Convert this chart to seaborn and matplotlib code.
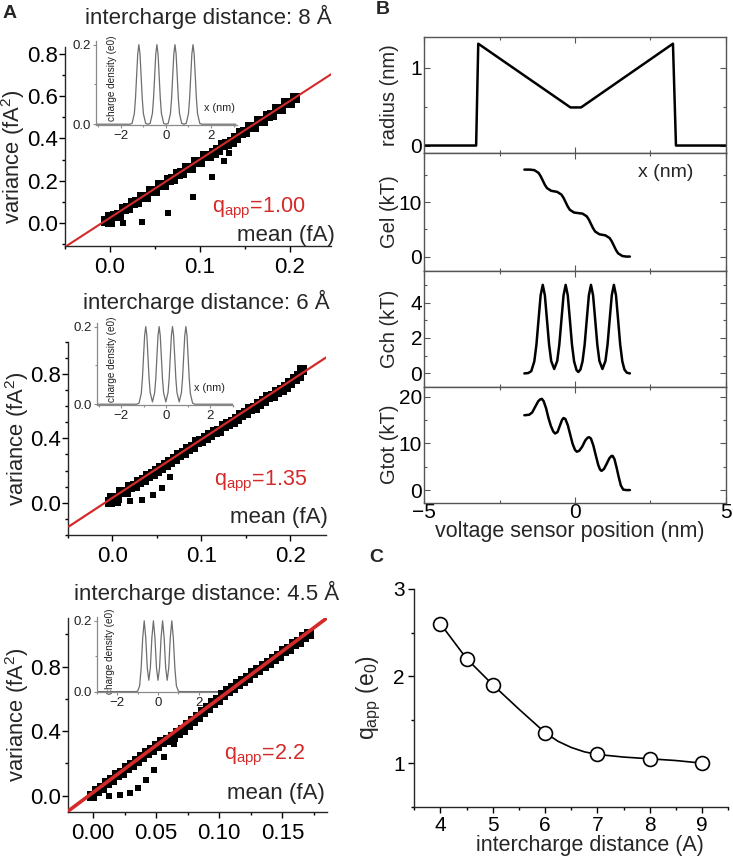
import matplotlib
matplotlib.use('Agg')
import matplotlib.pyplot as plt
from matplotlib.ticker import MultipleLocator, FormatStrFormatter
import seaborn as sns

# ---------------- data ----------------
# Panel A, 8 A spacing: noise analysis (mean, variance); dense band + stray points
mean_8 = [-0.005, 0.000, 0.000, 0.005, 0.010, 0.015, 0.020, 0.025, 0.030, 0.035, 0.040, 0.045, 0.050,
          0.055, 0.060, 0.065, 0.070, 0.075, 0.080, 0.085, 0.090, 0.095, 0.100, 0.105, 0.110, 0.115,
          0.120, 0.125, 0.130, 0.135, 0.140, 0.145, 0.150, 0.155, 0.160, 0.165, 0.170, 0.175, 0.180,
          0.185, 0.190, 0.195, 0.200, 0.205]
var_8 = [0.010, 0.005, 0.030, 0.035, 0.040, 0.066, 0.070, 0.095, 0.098, 0.122, 0.125, 0.150, 0.152,
         0.178, 0.180, 0.205, 0.208, 0.232, 0.236, 0.262, 0.262, 0.288, 0.290, 0.316, 0.318, 0.330,
         0.345, 0.370, 0.372, 0.385, 0.400, 0.425, 0.428, 0.455, 0.456, 0.482, 0.484, 0.508, 0.512,
         0.538, 0.540, 0.565, 0.566, 0.592]
mean_8_out = [0.001, 0.014, 0.035, 0.064, 0.092, 0.113, 0.127, 0.132]
var_8_out = [0.006, 0.000, 0.006, 0.049, 0.121, 0.219, 0.292, 0.330]
fit_8_x = [-0.05, 0.246]
fit_8_y = [-0.113, 0.704]

# Panel A, 6 A spacing
mean_6 = [-0.003, 0.000, 0.005, 0.010, 0.015, 0.020, 0.025, 0.030, 0.035, 0.040, 0.045, 0.050, 0.055,
          0.060, 0.065, 0.070, 0.075, 0.080, 0.085, 0.090, 0.095, 0.100, 0.105, 0.110, 0.115, 0.120,
          0.125, 0.130, 0.135, 0.140, 0.145, 0.150, 0.155, 0.160, 0.165, 0.170, 0.175, 0.180, 0.185,
          0.190, 0.195, 0.200, 0.205, 0.210, 0.213]
var_6 = [0.005, 0.030, 0.030, 0.068, 0.070, 0.100, 0.104, 0.130, 0.140, 0.165, 0.180, 0.200, 0.218,
         0.236, 0.254, 0.270, 0.298, 0.310, 0.335, 0.345, 0.375, 0.384, 0.405, 0.418, 0.440, 0.448,
         0.475, 0.488, 0.500, 0.520, 0.548, 0.560, 0.585, 0.588, 0.612, 0.630, 0.656, 0.662, 0.690,
         0.700, 0.720, 0.742, 0.770, 0.790, 0.825]
mean_6_out = [0.006, 0.020, 0.033, 0.046, 0.056, 0.065]
var_6_out = [0.000, 0.010, 0.020, 0.049, 0.090, 0.160]
fit_6_x = [-0.049, 0.24]
fit_6_y = [-0.147, 0.902]

# Panel A, 4.5 A spacing
mean_45 = [-0.001, 0.003, 0.007, 0.011, 0.015, 0.019, 0.023, 0.027, 0.031, 0.035, 0.039, 0.043, 0.047,
           0.051, 0.055, 0.059, 0.063, 0.067, 0.071, 0.075, 0.079, 0.083, 0.087, 0.091, 0.095, 0.099,
           0.103, 0.107, 0.111, 0.115, 0.119, 0.123, 0.127, 0.131, 0.135, 0.139, 0.143, 0.147, 0.151,
           0.155, 0.159, 0.163, 0.167, 0.171]
var_45 = [0.000, 0.030, 0.045, 0.080, 0.095, 0.125, 0.140, 0.170, 0.190, 0.215, 0.238, 0.262, 0.285,
          0.305, 0.330, 0.345, 0.365, 0.390, 0.410, 0.440, 0.465, 0.490, 0.520, 0.545, 0.575, 0.590,
          0.625, 0.648, 0.665, 0.690, 0.712, 0.730, 0.760, 0.782, 0.805, 0.822, 0.850, 0.868, 0.895,
          0.912, 0.940, 0.955, 0.985, 1.000]
mean_45_out = [0.013, 0.021, 0.029, 0.036, 0.042, 0.048, 0.056, 0.064]
var_45_out = [0.000, 0.004, 0.017, 0.046, 0.098, 0.160, 0.239, 0.320]
fit_45_x = [-0.021, 0.184]
fit_45_y = [-0.104, 1.095]

# insets: charge density (e0) vs x (nm)
den_8_x = [-3.1, -1.6, -1.5, -1.4, -1.35, -1.3, -1.25, -1.2, -1.15, -1.1, -1.05, -1.0, -0.9, -0.8,
           -0.7, -0.6, -0.55, -0.5, -0.45, -0.4, -0.35, -0.3, -0.25, -0.2, -0.1, 0.0, 0.1, 0.2, 0.25,
           0.3, 0.35, 0.4, 0.45, 0.5, 0.55, 0.6, 0.7, 0.8, 0.9, 1.0, 1.05, 1.1, 1.15, 1.2, 1.25, 1.3,
           1.35, 1.4, 1.5, 1.6, 3.1]
den_8_y = [0, 0, 0.002, 0.027, 0.065, 0.121, 0.177, 0.2, 0.177, 0.121, 0.065, 0.027, 0.002, 0.0,
           0.002, 0.027, 0.065, 0.121, 0.177, 0.2, 0.177, 0.121, 0.065, 0.027, 0.002, 0.0, 0.002,
           0.027, 0.065, 0.121, 0.177, 0.2, 0.177, 0.121, 0.065, 0.027, 0.002, 0.0, 0.002, 0.027,
           0.065, 0.121, 0.177, 0.2, 0.177, 0.121, 0.065, 0.027, 0.002, 0, 0]
den_6_x = [-3.1, -1.3, -1.2, -1.1, -1.05, -1.0, -0.95, -0.9, -0.85, -0.8, -0.75, -0.7, -0.6, -0.5,
           -0.45, -0.4, -0.35, -0.3, -0.25, -0.2, -0.15, -0.1, 0.0, 0.1, 0.15, 0.2, 0.25, 0.3, 0.35,
           0.4, 0.45, 0.5, 0.6, 0.7, 0.75, 0.8, 0.85, 0.9, 0.95, 1.0, 1.05, 1.1, 1.2, 1.3, 3.0]
den_6_y = [0, 0, 0.003, 0.028, 0.066, 0.122, 0.177, 0.2, 0.177, 0.122, 0.066, 0.030, 0.006, 0.030,
           0.066, 0.122, 0.177, 0.2, 0.177, 0.122, 0.066, 0.030, 0.006, 0.030, 0.066, 0.122, 0.177,
           0.2, 0.177, 0.122, 0.066, 0.030, 0.006, 0.030, 0.066, 0.122, 0.177, 0.2, 0.177, 0.122,
           0.066, 0.028, 0.003, 0, 0]
den_45_x = [-3.0, -1.1, -1.0, -0.9, -0.825, -0.75, -0.675, -0.6, -0.525, -0.45, -0.375, -0.3, -0.225,
            -0.15, -0.075, 0.0, 0.075, 0.15, 0.225, 0.3, 0.375, 0.45, 0.525, 0.6, 0.675, 0.75, 0.825,
            0.9, 1.0, 1.1, 2.95]
den_45_y = [0, 0, 0.001, 0.016, 0.066, 0.151, 0.2, 0.152, 0.067, 0.032, 0.067, 0.152, 0.2, 0.152,
            0.067, 0.032, 0.067, 0.152, 0.2, 0.152, 0.067, 0.032, 0.067, 0.152, 0.2, 0.151, 0.066,
            0.016, 0.001, 0, 0]

# Panel B: profiles vs voltage sensor position (nm)
rad_x = [-5, -3.28, -3.21, -0.15, 0.2, 3.25, 3.35, 5]
rad_y = [0, 0, 1.31, 0.49, 0.49, 1.31, 0, 0]
gel_x = [-1.68, -1.5, -1.35, -1.21, -1.14, -1.07, -1.0, -0.93, -0.79, -0.69, -0.59, -0.45, -0.38,
         -0.31, -0.24, -0.17, -0.03, 0.11, 0.25, 0.39, 0.46, 0.53, 0.60, 0.67, 0.81, 0.91, 1.01, 1.15,
         1.22, 1.29, 1.36, 1.43, 1.57, 1.70, 1.82]
gel_y = [16.0, 16.0, 15.9, 15.4, 14.8, 14.0, 13.2, 12.6, 12.1, 12.0, 11.9, 11.4, 10.8, 10.0, 9.2,
         8.6, 8.1, 8.0, 7.9, 7.4, 6.8, 6.0, 5.2, 4.6, 4.1, 4.0, 3.9, 3.4, 2.8, 2.0, 1.2, 0.6, 0.1,
         0.0, 0.0]
gch_x = [-1.68, -1.55, -1.45, -1.35, -1.28, -1.21, -1.14, -1.07, -1.0, -0.93, -0.86, -0.79, -0.69,
         -0.59, -0.52, -0.45, -0.38, -0.31, -0.24, -0.17, -0.10, -0.03, 0.05, 0.11, 0.18, 0.25, 0.32,
         0.39, 0.46, 0.53, 0.60, 0.67, 0.74, 0.81, 0.91, 1.01, 1.08, 1.15, 1.22, 1.29, 1.36, 1.43,
         1.50, 1.57, 1.64, 1.72, 1.82]
gch_y = [0, 0.02, 0.13, 0.68, 1.62, 3.03, 4.41, 5.0, 4.41, 3.03, 1.63, 0.70, 0.25, 0.70, 1.63, 3.03,
         4.41, 5.0, 4.41, 3.03, 1.62, 0.68, 0.19, 0.08, 0.22, 0.68, 1.62, 3.03, 4.41, 5.0, 4.41, 3.03,
         1.63, 0.70, 0.25, 0.70, 1.63, 3.03, 4.41, 5.0, 4.41, 3.03, 1.62, 0.68, 0.22, 0.04, 0]
gtot_x = [-1.68, -1.52, -1.42, -1.32, -1.22, -1.15, -1.10, -1.04, -0.96, -0.88, -0.80, -0.72, -0.66,
          -0.58, -0.50, -0.43, -0.38, -0.32, -0.24, -0.16, -0.08, 0.0, 0.06, 0.14, 0.24, 0.34, 0.42,
          0.47, 0.53, 0.61, 0.69, 0.77, 0.83, 0.88, 0.96, 1.05, 1.14, 1.21, 1.25, 1.31, 1.38, 1.45,
          1.52, 1.60, 1.70, 1.82]
gtot_y = [16.0, 16.1, 16.6, 17.8, 19.0, 19.4, 19.5, 19.0, 17.5, 15.4, 13.7, 12.5, 12.1, 12.4, 13.8,
          15.0, 15.4, 15.2, 13.9, 11.9, 9.9, 8.6, 8.2, 8.4, 9.3, 10.6, 11.2, 11.3, 11.0, 9.5, 7.4,
          5.4, 4.4, 4.1, 4.5, 5.6, 6.8, 7.3, 7.3, 6.6, 4.8, 2.8, 1.0, 0.1, 0.0, 0.0]

# Panel C: apparent charge vs intercharge distance
dist = [4, 4.5, 5, 6, 7, 8, 9]
qapp = [2.6, 2.2, 1.9, 1.35, 1.1, 1.05, 1.0]
curve_x = [4, 4.5, 5, 5.5, 6, 6.25, 6.5, 6.75, 7, 7.5, 8, 8.5, 9]
curve_y = [2.6, 2.2, 1.9, 1.62, 1.35, 1.25, 1.18, 1.13, 1.1, 1.07, 1.05, 1.03, 1.0]

# ---------------- styling ----------------
sns.set_theme(style='ticks')
plt.rcParams['font.family'] = ['Liberation Sans', 'DejaVu Sans']
plt.rcParams['mathtext.fontset'] = 'custom'
plt.rcParams['mathtext.rm'] = 'Liberation Sans'
plt.rcParams['mathtext.it'] = 'Liberation Sans:italic'
plt.rcParams['axes.linewidth'] = 1.0

W, H = 733, 859
fig = plt.figure(figsize=(W / 100, H / 100), dpi=100)


def box(l, t, r, b):
    return [l / W, 1 - b / H, (r - l) / W, (b - t) / H]


def fx(x):
    return x / W


def fy(y):
    return 1 - y / H


RED = '#d42a2a'

# ---------------- Panel A ----------------
panels = [
    dict(mean=mean_8, var=var_8, mo=mean_8_out, vo=var_8_out, fx=fit_8_x, fy=fit_8_y, flw=1.5,
         main=(65, 47.4, 330.5, 246.3), xlim=(-0.05, 0.245), ylim=(-0.11, 0.83),
         xt=[0.0, 0.1, 0.2], xmin=0.05, yt=[0.0, 0.2, 0.4, 0.6, 0.8], ymin=0.1, xfmt='%.1f',
         inset=(96, 40.7, 237, 125), ixlim=(-3.1, 3.15), dx=den_8_x, dy=den_8_y, xnm=(0.985, 0.2),
         title='intercharge distance: 8 Å', tpos=(208, 17), q='1.00', qpos=(212, 208),
         mpos=(335, 235), ylab_y=0.45),
    dict(mean=mean_6, var=var_6, mo=mean_6_out, vo=var_6_out, fx=fit_6_x, fy=fit_6_y, flw=1.6,
         main=(68, 341.7, 326, 535), xlim=(-0.05, 0.24), ylim=(-0.2, 1.0),
         xt=[0.0, 0.1, 0.2], xmin=0.05, yt=[0.0, 0.4, 0.8], ymin=0.1, xfmt='%.1f',
         inset=(96.7, 322.7, 232.7, 405), ixlim=(-3.1, 3.0), dx=den_6_x, dy=den_6_y, xnm=(0.94, 0.21),
         title='intercharge distance: 6 Å', tpos=(206, 301.7), q='1.35', qpos=(214, 481.7),
         mpos=(328.3, 518), ylab_y=0.5),
    dict(mean=mean_45, var=var_45, mo=mean_45_out, vo=var_45_out, fx=fit_45_x, fy=fit_45_y, flw=2.6,
         main=(67.7, 618.3, 326.7, 811.7), xlim=(-0.02, 0.185), ylim=(-0.1, 1.1),
         xt=[0.0, 0.05, 0.10, 0.15], xmin=0.025, yt=[0.0, 0.4, 0.8], ymin=0.2, xfmt='%.2f',
         inset=(96.7, 617.3, 218.3, 692.3), ixlim=(-3.0, 2.95), dx=den_45_x, dy=den_45_y, xnm=None,
         title='intercharge distance: 4.5 Å', tpos=(206.5, 593), q='2.2', qpos=(224, 755.7),
         mpos=(325, 793), ylab_y=0.5),
]

for p in panels:
    # inset first so the main scatter sits on top of it
    axi = fig.add_axes(box(*p['inset']))
    axi.patch.set_alpha(0)
    sns.lineplot(x=p['dx'], y=p['dy'], ax=axi, color='#6e6e6e', linewidth=0.9,
                 sort=False, estimator=None)
    axi.set_yticks([0.0, 0.2])
    axi.yaxis.set_major_formatter(FormatStrFormatter('%.1f'))
    axi.yaxis.set_minor_locator(MultipleLocator(0.1))
    axi.set_xticks([-2, 0, 2])
    axi.xaxis.set_minor_locator(MultipleLocator(1))
    axi.set_xlim(*p['ixlim'])
    axi.set_ylim(-0.002, 0.21)
    for s in ['top', 'right']:
        axi.spines[s].set_visible(False)
    for s in ['left', 'bottom']:
        axi.spines[s].set_color('#8a8a8a')
        axi.spines[s].set_linewidth(0.9)
    axi.tick_params(which='both', direction='out', colors='#8a8a8a', labelcolor='#222222',
                    labelsize=9.5, length=2.5, width=0.8, pad=1)
    axi.tick_params(which='minor', length=1.5)
    axi.set_ylabel('charge density (e0)', fontsize=7.2, color='#222222')
    axi.yaxis.set_label_coords(0.15, 0.55)
    if p['xnm'] is not None:
        axi.text(p['xnm'][0], p['xnm'][1], 'x (nm)', transform=axi.transAxes, ha='right',
                 va='center', fontsize=7.8, color='#222222')

    ax = fig.add_axes(box(*p['main']))
    ax.patch.set_alpha(0)
    sns.lineplot(x=p['fx'], y=p['fy'], ax=ax, color=RED, linewidth=p['flw'],
                 sort=False, estimator=None, zorder=3)
    sns.scatterplot(x=p['mean'], y=p['var'], ax=ax, marker='s', s=58, color='black',
                    linewidth=0, zorder=2)
    sns.scatterplot(x=p['mo'], y=p['vo'], ax=ax, marker='s', s=24, color='black',
                    linewidth=0, zorder=2)
    ax.set_xticks(p['xt'])
    ax.set_yticks(p['yt'])
    ax.xaxis.set_minor_locator(MultipleLocator(p['xmin']))
    ax.yaxis.set_minor_locator(MultipleLocator(p['ymin']))
    ax.xaxis.set_major_formatter(FormatStrFormatter(p['xfmt']))
    ax.yaxis.set_major_formatter(FormatStrFormatter('%.1f'))
    ax.set_xlim(*p['xlim'])
    ax.set_ylim(*p['ylim'])
    for s in ['top', 'right']:
        ax.spines[s].set_visible(False)
    ax.tick_params(which='both', direction='out', colors='black', labelsize=16, width=1)
    ax.tick_params(which='major', length=4)
    ax.tick_params(axis='x', which='major', pad=4)
    ax.tick_params(axis='y', which='major', pad=1)
    ax.tick_params(which='minor', length=2.5)
    ax.set_ylabel('variance (fA$^2$)', fontsize=15.8)
    ax.yaxis.set_label_coords(-0.143, p['ylab_y'])

    fig.text(fx(p['tpos'][0]), fy(p['tpos'][1]), p['title'], ha='center', va='center',
             fontsize=16)
    fig.text(fx(p['qpos'][0]), fy(p['qpos'][1]), 'q$_{\\rm app}$=' + p['q'], ha='left',
             va='center', fontsize=15.5, color=RED)
    fig.text(fx(p['mpos'][0]), fy(p['mpos'][1]), 'mean (fA)', ha='right', va='center',
             fontsize=16)

fig.text(fx(3), fy(13), 'A', fontsize=14, fontweight='bold', va='center')

# ---------------- Panel B ----------------
b_rows = [
    dict(x=rad_x, y=rad_y, t=36.7, b=153.3, ylim=(-0.1, 1.4), maj=1, mn=0.5, lab='radius (nm)'),
    dict(x=gel_x, y=gel_y, t=153.3, b=270.7, ylim=(-2.6, 19.0), maj=10, mn=5, lab='Gel (kT)'),
    dict(x=gch_x, y=gch_y, t=270.7, b=386.7, ylim=(-0.75, 5.8), maj=2, mn=1, lab='Gch (kT)'),
    dict(x=gtot_x, y=gtot_y, t=386.7, b=502.7, ylim=(-2.7, 22.1), maj=10, mn=5, lab='Gtot (kT)'),
]
for i, r in enumerate(b_rows):
    ax = fig.add_axes(box(424.3, r['t'], 725.7, r['b']))
    sns.lineplot(x=r['x'], y=r['y'], ax=ax, color='black', linewidth=1.8, sort=False,
                 estimator=None)
    ax.set_xlim(-5, 5)
    ax.set_ylim(*r['ylim'])
    ax.xaxis.set_major_locator(MultipleLocator(5))
    ax.xaxis.set_minor_locator(MultipleLocator(2.5))
    ax.yaxis.set_major_locator(MultipleLocator(r['maj']))
    ax.yaxis.set_minor_locator(MultipleLocator(r['mn']))
    for s in ax.spines.values():
        s.set_color('#555555')
        s.set_linewidth(1.0)
    ax.tick_params(which='both', direction='in', top=True, right=True, colors='#555555',
                   labelcolor='black', labelsize=15, width=0.8)
    ax.tick_params(which='major', length=4)
    ax.tick_params(axis='x', which='major', pad=0.5)
    ax.tick_params(axis='y', which='major', pad=1.5)
    ax.tick_params(which='minor', length=2.5)
    if i < 3:
        ax.tick_params(labelbottom=False)
    ax.set_ylabel(r['lab'], fontsize=14.5)
    ax.yaxis.set_label_coords(-0.085, 0.5)
    if i == 1:
        ax.text(0.8, 0.84, 'x (nm)', transform=ax.transAxes, ha='center', va='center',
                fontsize=14)

fig.text(fx(570), fy(531), 'voltage sensor position (nm)', ha='center', va='center', fontsize=15.5)
fig.text(fx(376), fy(10), 'B', fontsize=14, fontweight='bold', va='center')

# ---------------- Panel C ----------------
axc = fig.add_axes(box(414.3, 589, 728.3, 806.7))
sns.lineplot(x=curve_x, y=curve_y, ax=axc, color='black', linewidth=1.2, sort=False,
             estimator=None)
sns.scatterplot(x=dist, y=qapp, ax=axc, marker='o', s=100, facecolor='white',
                edgecolor='black', linewidth=1.2, zorder=3)
axc.set_xticks([4, 5, 6, 7, 8, 9])
axc.xaxis.set_minor_locator(MultipleLocator(0.5))
axc.set_yticks([1, 2, 3])
axc.yaxis.set_minor_locator(MultipleLocator(0.5))
axc.set_xlim(3.5, 9.5)
axc.set_ylim(0.5, 3.0)
for s in ['top', 'right']:
    axc.spines[s].set_visible(False)
axc.tick_params(which='both', direction='out', colors='black', labelsize=15, width=1)
axc.tick_params(which='major', length=4, pad=3)
axc.tick_params(which='minor', length=2.5)
axc.set_ylabel('q$_{\\rm app}$ (e$_{\\rm 0}$)', fontsize=16.5)
axc.yaxis.set_label_coords(-0.1, 0.5)
fig.text(fx(590), fy(846), 'intercharge distance (A)', ha='center', va='center', fontsize=15.5)
fig.text(fx(369), fy(558), 'C', fontsize=14, fontweight='bold', va='center')

fig.savefig('out.png', dpi=100)
